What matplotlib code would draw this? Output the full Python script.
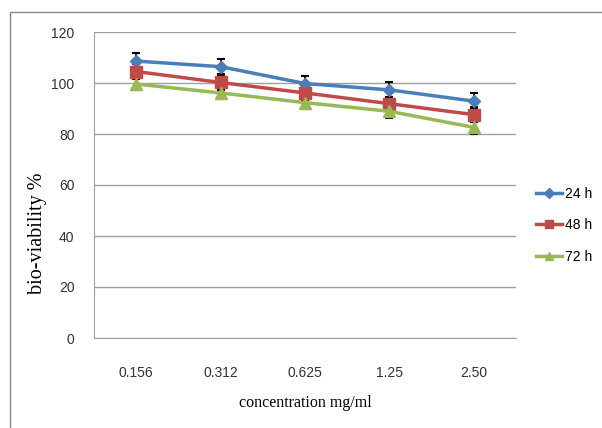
import matplotlib
matplotlib.use("Agg")
import matplotlib.pyplot as plt
from matplotlib.patches import Rectangle
from matplotlib.lines import Line2D
import numpy as np

categories = ["0.156", "0.312", "0.625", "1.25", "2.50"]
series_names = ["24 h", "48 h", "72 h"]
v24 = [108.6, 106.4, 99.8, 97.3, 92.9]
v48 = [104.5, 100.2, 96.1, 91.9, 87.6]
v72 = [99.6, 96.1, 92.3, 88.9, 82.6]
e24 = [3.0, 3.0, 3.0, 3.0, 3.0]
e48 = [2.8, 2.8, 2.8, 2.8, 2.8]
e72 = [2.5, 2.5, 2.5, 2.5, 2.5]
yticks = [0, 20, 40, 60, 80, 100, 120]

colors = ["#4A7EBB", "#BE4B48", "#98B954"]
markers = ["D", "s", "^"]
msizes = [6, 8, 8]
tickfont = ["Liberation Sans Narrow", "Liberation Sans", "DejaVu Sans"]

fig = plt.figure(figsize=(6.02, 4.28), dpi=100)
fig.patches.append(Rectangle((10/602, -0.1), 1.0, 1 - 12/428 + 0.1, transform=fig.transFigure,
                             fill=False, edgecolor="#888888", linewidth=1.0))
ax = fig.add_axes([94/602, 1 - 338/428, 422/602, 306/428])
x = np.arange(len(categories))
for vals, errs, c, m, ms, name in zip([v24, v48, v72], [e24, e48, e72], colors, markers, msizes, series_names):
    ax.errorbar(x, vals, yerr=errs, fmt="none", ecolor="black", elinewidth=1.2, capsize=3, capthick=1.5, zorder=2)
    ax.plot(x, vals, color=c, marker=m, markersize=ms, linewidth=2.5, label=name, zorder=3)

ax.set_xlim(-0.5, len(categories) - 0.5)
ax.set_ylim(0, 120)
ax.set_yticks(yticks)
ax.set_xticks(x)
ax.set_xticklabels(categories)
ax.yaxis.grid(True, color="#A0A0A0", linewidth=1.0)
ax.set_axisbelow(True)
for s in ["top", "right"]:
    ax.spines[s].set_visible(False)
for s in ["left", "bottom"]:
    ax.spines[s].set_color("#A0A0A0")
ax.tick_params(axis="both", length=0, labelsize=10, colors="#333333")
ax.tick_params(axis="x", pad=20)
ax.tick_params(axis="y", pad=14)
for lab in ax.get_xticklabels() + ax.get_yticklabels():
    lab.set_fontfamily(tickfont)

ax.set_xlabel("concentration mg/ml", fontfamily="Liberation Serif", fontsize=11.5)
ax.xaxis.set_label_coords(0.5, -(403 - 338) / 306, transform=ax.transAxes)
ax.xaxis.label.set_va("center")
ax.set_ylabel("bio-viability %", fontfamily="Liberation Serif", fontsize=14.5)
ax.yaxis.set_label_coords((38 - 94) / 422, (338 - 233) / 306, transform=ax.transAxes)
ax.yaxis.label.set_va("center")

handles = [Line2D([], [], color=c, marker=m, markersize=ms * 0.8, linewidth=2.5)
           for c, m, ms in zip(colors, markers, msizes)]
leg = fig.legend(handles, series_names, loc="upper left", bbox_to_anchor=(530/602, 1 - 181/428),
                 frameon=False, handlelength=1.9, handletextpad=0.2, borderaxespad=0,
                 labelspacing=1.28, prop={"family": tickfont, "size": 10})

fig.savefig("out.png", dpi=100)
